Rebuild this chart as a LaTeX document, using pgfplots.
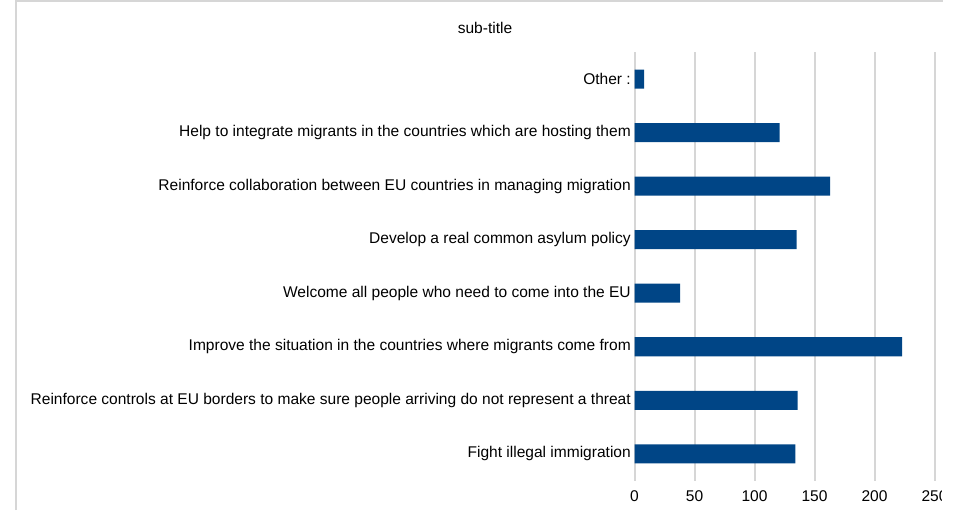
\documentclass[border=0pt]{standalone}
\usepackage{pgfplots}
\pgfplotsset{compat=1.18}
\usepackage{fontspec}
\setmainfont{Liberation Sans}
\definecolor{barblue}{RGB}{0,69,134}
\definecolor{gridgray}{RGB}{214,214,214}
\begin{document}
\fontsize{11.65}{14}\selectfont
\begin{tikzpicture}[x=0.75pt,y=0.75pt]
\path[use as bounding box] (0,0) rectangle (969,510);
\draw[gridgray, line width=1.1pt] (16,0) -- (16,509) -- (943,509);
\node[anchor=center, font=\fontsize{11.65}{14}\selectfont] at (485,482) {sub-title};
\begin{scope}
\clip (0,0) rectangle (941,510);
\begin{axis}[
  at={(634.5*0.75pt,29.5*0.75pt)}, anchor=south west,
  scale only axis,
  width=225pt, height=321pt,
  xmin=0, xmax=250,
  ymin=-0.5, ymax=7.5,
  xbar, bar width=14.25pt, bar shift=0pt,
  xtick={0,50,100,150,200,250},
  ytick={0,1,2,3,4,5,6,7},
  yticklabels={Fight illegal immigration,
    Reinforce controls at EU borders to make sure people arriving do not represent a threat,
    Improve the situation in the countries where migrants come from,
    Welcome all people who need to come into the EU,
    Develop a real common asylum policy,
    Reinforce collaboration between EU countries in managing migration,
    Help to integrate migrants in the countries which are hosting them,
    Other :},
  xmajorgrids,
  grid style={gridgray, line width=1.5pt},
  axis line style={draw=none},
  tick style={draw=none},
  major tick length=0pt,
  /pgf/number format/assume math mode=true,
  tick label style={font=\fontsize{11.65}{14}\selectfont},
  y tick label style={anchor=east, inner sep=0pt, xshift=-2.6pt},
  x tick label style={anchor=north, inner sep=0pt, yshift=-7.5pt},
  clip=false,
]
\addplot[fill=barblue, draw=none] coordinates {
  (134,0) (136,1) (223,2) (38,3) (135,4) (163,5) (121,6) (8,7)
};
\end{axis}
\end{scope}
\end{tikzpicture}
\end{document}
